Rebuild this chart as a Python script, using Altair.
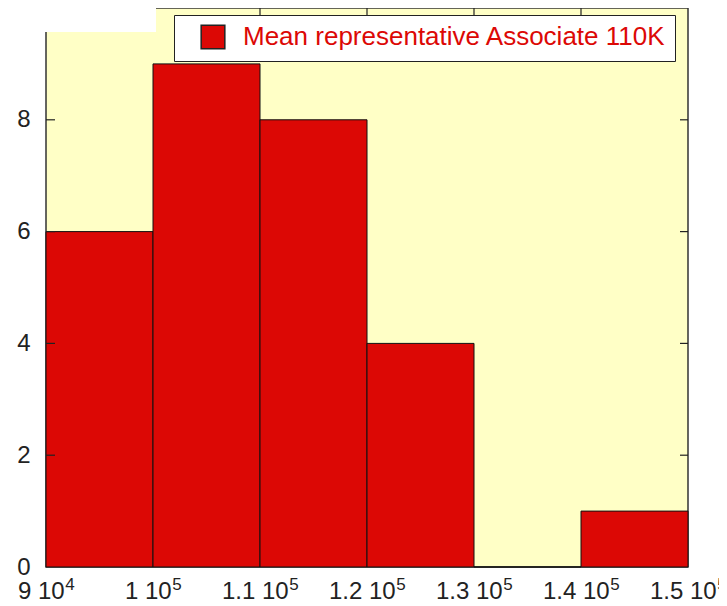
import altair as alt
import pandas as pd

# Data
bin_starts = [90000, 100000, 110000, 120000, 130000, 140000]
bin_ends = [100000, 110000, 120000, 130000, 140000, 150000]
counts = [6, 9, 8, 4, 0, 1]
series_name = "Mean representative Associate 110K"

x_tick_values = [90000, 100000, 110000, 120000, 130000, 140000, 150000]
x_tick_mantissas = ["9", "1", "1.1", "1.2", "1.3", "1.4", "1.5"]
x_tick_exponents = ["4", "5", "5", "5", "5", "5", "5"]
y_tick_values = [0, 2, 4, 6, 8]
y_inner_ticks = [2, 4, 6, 8]

RED = "#DC0805"
BG = "#FFFFC6"
W, H = 642, 559
XMIN, XMAX = 90000, 150000
LABEL_FS = 24
SUP_FS = 17
FONT = "Liberation Sans"

# Arial-metric character widths (em) for layout of superscripts
CW = {"0": 0.556, "1": 0.556, "2": 0.556, "3": 0.556, "4": 0.556, "5": 0.556,
      "6": 0.556, "7": 0.556, "8": 0.556, "9": 0.556, " ": 0.278, ".": 0.278}

df = pd.DataFrame({"start": bin_starts, "end": bin_ends, "count": counts,
                   "series": [series_name] * len(counts)})

bases = [m + " 10" for m in x_tick_mantissas]
label_expr = "''"
for v, l in reversed(list(zip(x_tick_values, bases))):
    label_expr = f"datum.value == {v} ? '{l}' : ({label_expr})"

sup_w = CW["5"] * SUP_FS
label_shift = -(sup_w + 1) / 2
px_to_data = (XMAX - XMIN) / W
sup_x = []
for v, b in zip(x_tick_values, bases):
    bw = sum(CW[c] for c in b) * LABEL_FS
    sup_x.append(v + (bw / 2 + label_shift + 1) * px_to_data)
supdf = pd.DataFrame({"sx": sup_x, "e": x_tick_exponents})

xscale = alt.Scale(domain=[XMIN, XMAX], nice=False, zero=False)
yscale = alt.Scale(domain=[0, 10], nice=False)

bars = alt.Chart(df).mark_rect(stroke="#111111", strokeWidth=1).encode(
    x=alt.X("start:Q", scale=xscale, title=None,
            axis=alt.Axis(values=x_tick_values, labelExpr=label_expr, ticks=False,
                          domain=False, grid=False, labelFontSize=LABEL_FS, labelFont=FONT,
                          labelColor="#222222", labelPadding=12, labelOverlap=False,
                          labelFlush=False, labelOffset=label_shift)),
    x2="end:Q",
    y=alt.Y("count:Q", scale=yscale, title=None,
            axis=alt.Axis(values=y_tick_values, ticks=False, domain=False, grid=False,
                          labelFontSize=LABEL_FS, labelFont=FONT, labelColor="#222222",
                          labelPadding=16)),
    y2=alt.datum(0),
    color=alt.Color("series:N", scale=alt.Scale(range=[RED]), title=None,
                    legend=alt.Legend(orient="none", legendX=128, legendY=7,
                                      fillColor="white", strokeColor="#222222",
                                      padding=9, symbolOffset=17, symbolType="square",
                                      symbolSize=560, symbolStrokeColor="#222222",
                                      symbolStrokeWidth=1.5, labelColor=RED,
                                      labelFontSize=26, labelFont=FONT,
                                      labelOffset=17, labelLimit=700)),
)

sups = alt.Chart(supdf).mark_text(align="left", baseline="alphabetic", fontSize=SUP_FS,
                                  font=FONT, color="#222222").encode(
    x=alt.X("sx:Q", scale=xscale), y=alt.value(H + 23), text="e:N")

ydf = pd.DataFrame({"v": y_inner_ticks})
left_ticks = alt.Chart(ydf).mark_rule(color="#222222", strokeWidth=1.2).encode(
    y=alt.Y("v:Q", scale=yscale), x=alt.value(0), x2=alt.value(9))
right_ticks = alt.Chart(ydf).mark_rule(color="#222222", strokeWidth=1.2).encode(
    y=alt.Y("v:Q", scale=yscale), x=alt.value(W - 8), x2=alt.value(W))

xdf = pd.DataFrame({"v": x_tick_values[1:-1]})
top_ticks = alt.Chart(xdf).mark_rule(color="#222222", strokeWidth=1.2).encode(
    x=alt.X("v:Q", scale=xscale), y=alt.value(0), y2=alt.value(8))

mask = alt.Chart(pd.DataFrame({"a": [0]})).mark_rect(color="white").encode(
    x=alt.value(-6), x2=alt.value(110), y=alt.value(-6), y2=alt.value(24))

chart = alt.layer(bars, sups, left_ticks, right_ticks, top_ticks, mask).properties(
    width=W, height=H,
    autosize=alt.AutoSizeParams(type="none"),
    padding={"left": 38, "top": 0, "right": 31, "bottom": 37},
    background="white",
).configure_view(fill=BG, stroke="#333333", strokeWidth=1.5)

chart.save("out.html", embed_options={"renderer": "svg", "actions": False})
